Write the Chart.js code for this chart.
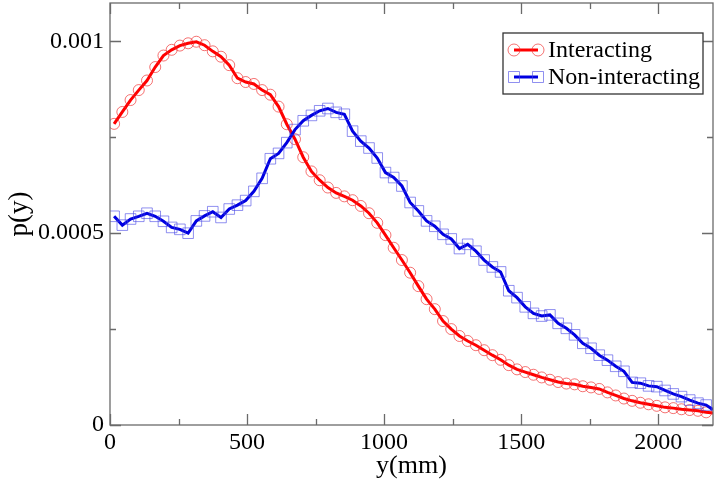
<!DOCTYPE html>
<html>
<head>
<meta charset="utf-8">
<script src="https://cdn.jsdelivr.net/npm/chart.js@4.4.1/dist/chart.umd.min.js"></script>
<style>
	html, body { margin: 0; padding: 0; background: #fff; }
	#wrap { width: 716px; height: 485px; }
</style>
</head>
<body>
<div id="wrap"><canvas id="chart"></canvas></div>
<script>
// Data (y in mm, p(y) in units of 1e-4); the last point (2200) only carries the line to the frame
const Y_MM = [
	15, 45, 75, 105, 135, 165, 195, 225, 255, 285, 315, 345, 375, 405, 435, 465, 495, 525, 555, 585,
	615, 645, 675, 705, 735, 765, 795, 825, 855, 885, 915, 945, 975, 1005, 1035, 1065, 1095, 1125, 1155, 1185,
	1215, 1245, 1275, 1305, 1335, 1365, 1395, 1425, 1455, 1485, 1515, 1545, 1575, 1605, 1635, 1665, 1695, 1725, 1755, 1785,
	1815, 1845, 1875, 1905, 1935, 1965, 1995, 2025, 2055, 2085, 2115, 2145, 2175, 2200,
];
const INTERACTING = [
	7.85, 8.16, 8.47, 8.73, 8.98, 9.33, 9.63, 9.78, 9.89, 9.95, 9.99, 9.90, 9.74, 9.60, 9.38, 9.04, 8.94, 8.89, 8.73, 8.61,
	8.30, 7.84, 7.45, 6.98, 6.61, 6.38, 6.19, 6.05, 5.96, 5.86, 5.71, 5.52, 5.27, 4.95, 4.62, 4.30, 3.97, 3.62, 3.28, 3.02,
	2.71, 2.50, 2.32, 2.19, 2.08, 1.95, 1.82, 1.70, 1.56, 1.45, 1.38, 1.31, 1.24, 1.18, 1.12, 1.08, 1.06, 1.01, 0.98, 0.94,
	0.85, 0.77, 0.69, 0.63, 0.58, 0.54, 0.50, 0.46, 0.44, 0.41, 0.39, 0.37, 0.33, 0.31,
];
const NON_INTERACTING = [
	5.44, 5.21, 5.37, 5.44, 5.52, 5.44, 5.31, 5.15, 5.10, 5.00, 5.32, 5.45, 5.56, 5.41, 5.63, 5.73, 5.85, 6.09, 6.43, 6.94,
	7.08, 7.36, 7.70, 7.93, 8.07, 8.19, 8.25, 8.15, 8.10, 7.66, 7.40, 7.22, 6.96, 6.58, 6.45, 6.23, 5.80, 5.58, 5.32, 5.18,
	4.97, 4.85, 4.60, 4.71, 4.53, 4.30, 4.12, 3.99, 3.50, 3.32, 3.08, 2.91, 2.84, 2.87, 2.65, 2.52, 2.35, 2.13, 2.00, 1.82,
	1.69, 1.53, 1.40, 1.11, 1.09, 1.02, 1.00, 0.90, 0.81, 0.74, 0.65, 0.57, 0.52, 0.40,
];
const SERIES_LABELS = ["Interacting", "Non-interacting"];
const X_TICKS = [0, 250, 500, 750, 1000, 1250, 1500, 1750, 2000];
const X_LABELS = [0, 500, 1000, 1500, 2000];
const Y_TICKS = [0, 0.00025, 0.0005, 0.00075, 0.001];
const Y_LABELS = [0, 0.0005, 0.001];

const FONT = "'Liberation Serif', 'DejaVu Serif', serif";
const AXIS_COLOR = "#6a6a6a";

const toPoints = (vals) => vals.map((v, i) => ({ x: Y_MM[i], y: v * 1e-4 }));
const isLabelled = (list, v) => list.some((l) => Math.abs(l - v) < 1e-9);
// no marker on the closing point at the frame edge
const markerRadius = (r) => (ctx) => (ctx.dataIndex === Y_MM.length - 1 ? 0 : r);
// drop the label-overflow padding so the frame fills the canvas like the original
const noScalePadding = (scale) => {
	scale.paddingTop = 0;
	scale.paddingBottom = 0;
	scale.paddingLeft = 0;
	scale.paddingRight = 0;
};

// Inward ticks on all four sides plus the frame
const frameTicks = {
	id: "frameTicks",
	afterDatasetsDraw(chart) {
		const { ctx, chartArea: a, scales } = chart;
		ctx.save();
		ctx.strokeStyle = AXIS_COLOR;
		ctx.lineWidth = 1.3;
		ctx.beginPath();
		scales.x.ticks.forEach((t) => {
			const px = Math.round(scales.x.getPixelForValue(t.value)) + 0.5;
			const len = isLabelled(X_LABELS, t.value) ? 11 : 6;
			ctx.moveTo(px, a.bottom);
			ctx.lineTo(px, a.bottom - len);
			ctx.moveTo(px, a.top);
			ctx.lineTo(px, a.top + len);
		});
		scales.y.ticks.forEach((t) => {
			const py = Math.round(scales.y.getPixelForValue(t.value)) + 0.5;
			const len = isLabelled(Y_LABELS, t.value) ? 11 : 6;
			ctx.moveTo(a.left, py);
			ctx.lineTo(a.left + len, py);
			ctx.moveTo(a.right, py);
			ctx.lineTo(a.right - len, py);
		});
		ctx.stroke();
		ctx.strokeRect(a.left, a.top, a.right - a.left, a.bottom - a.top);
		ctx.restore();
	},
};

// Legend box with a line + two markers per entry
const boxLegend = {
	id: "boxLegend",
	afterDraw(chart) {
		const { ctx, chartArea: a } = chart;
		const w = 200, h = 61;
		const x0 = a.right - 10 - w, y0 = a.top + 30;
		ctx.save();
		ctx.fillStyle = "#fff";
		ctx.fillRect(x0, y0, w, h);
		ctx.strokeStyle = "#333";
		ctx.lineWidth = 1.3;
		ctx.strokeRect(x0, y0, w, h);
		ctx.font = `24px ${FONT}`;
		ctx.textBaseline = "middle";
		SERIES_LABELS.forEach((label, i) => {
			const ds = chart.data.datasets.find((d) => d.label === label);
			const cy = y0 + 17 + i * 27;
			const sx = x0 + 11, ex = x0 + 35;
			ctx.strokeStyle = ds.borderColor;
			ctx.lineWidth = 3;
			ctx.beginPath();
			ctx.moveTo(sx, cy);
			ctx.lineTo(ex, cy);
			ctx.stroke();
			ctx.strokeStyle = ds.pointBorderColor;
			ctx.lineWidth = 1;
			[sx, ex].forEach((mx) => {
				ctx.beginPath();
				if (ds.pointStyle === "rect") {
					ctx.rect(mx - 5.5, cy - 5.5, 11, 11);
				} else {
					ctx.arc(mx, cy, 6, 0, Math.PI * 2);
				}
				ctx.stroke();
			});
			ctx.fillStyle = "#000";
			ctx.fillText(label, x0 + 45, cy + 1);
		});
		ctx.restore();
	},
};

const DATA = {
	datasets: [
		{
			label: SERIES_LABELS[1],
			data: toPoints(NON_INTERACTING),
			showLine: true,
			borderColor: "rgb(0, 0, 225)",
			borderWidth: 3,
			pointStyle: "rect",
			pointRadius: markerRadius(7.5),
			pointBorderWidth: 1,
			pointBorderColor: "rgba(70, 70, 230, 0.6)",
			pointBackgroundColor: "rgba(0, 0, 0, 0)",
			tension: 0,
		},
		{
			label: SERIES_LABELS[0],
			data: toPoints(INTERACTING),
			showLine: true,
			borderColor: "rgb(255, 0, 0)",
			borderWidth: 3,
			pointStyle: "circle",
			pointRadius: markerRadius(5.5),
			pointBorderWidth: 1,
			pointBorderColor: "rgba(240, 40, 40, 0.65)",
			pointBackgroundColor: "rgba(0, 0, 0, 0)",
			tension: 0,
		},
	],
};

const CONFIG = {
	type: "scatter",
	data: DATA,
	options: {
		responsive: true,
		maintainAspectRatio: false,
		animation: false,
		layout: { autoPadding: false, padding: { left: 0, right: 3, top: 3, bottom: 0 } },
		plugins: {
			legend: { display: false },
			tooltip: { enabled: false },
		},
		scales: {
			x: {
				type: "linear",
				min: 0,
				max: 2200,
				border: { display: false },
				grid: { display: false, drawTicks: false },
				afterBuildTicks: (scale) => {
					scale.ticks = X_TICKS.map((v) => ({ value: v }));
				},
				ticks: {
					autoSkip: false,
					maxRotation: 0,
					padding: 3,
					color: "#000",
					font: { family: FONT, size: 24 },
					callback: (v) => (isLabelled(X_LABELS, v) ? String(v) : ""),
				},
				title: {
					display: true,
					text: "y(mm)",
					color: "#000",
					font: { family: FONT, size: 26 },
					padding: { top: 0, bottom: 3 },
				},
				afterFit: (scale) => {
					scale.height = 60;
					noScalePadding(scale);
				},
			},
			y: {
				type: "linear",
				min: 0,
				max: 0.0011,
				border: { display: false },
				grid: { display: false, drawTicks: false },
				afterBuildTicks: (scale) => {
					scale.ticks = Y_TICKS.map((v) => ({ value: v }));
				},
				ticks: {
					autoSkip: false,
					padding: 6,
					color: "#000",
					font: { family: FONT, size: 24 },
					callback: (v) => (isLabelled(Y_LABELS, v) ? String(Number(v.toFixed(4))) : ""),
				},
				title: {
					display: true,
					text: "p(y)",
					color: "#000",
					font: { family: FONT, size: 27 },
					padding: { top: 4, bottom: 0 },
				},
				afterFit: (scale) => {
					scale.width = 110;
					noScalePadding(scale);
				},
			},
		},
	},
	plugins: [frameTicks, boxLegend],
};

new Chart(document.getElementById("chart"), CONFIG);
</script>
</body>
</html>
